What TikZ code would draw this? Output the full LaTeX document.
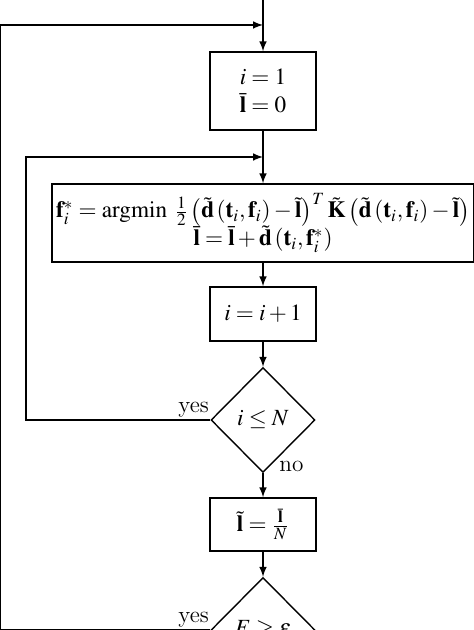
\documentclass[tikz,border=0pt]{standalone}
\usepackage{amsmath,amssymb}
\usepackage{mathptmx}
\usepackage{tikz}
\usetikzlibrary{shapes,arrows,positioning,calc,shapes.geometric}

\begin{document}
\begin{tikzpicture}[
        x=0.5pt, y=0.5pt,
        font=\fontsize{11.6}{14}\selectfont,
        stepbox/.style={draw, line width=0.7pt, rectangle, minimum width=53pt, align=center, inner sep=1.5pt},
        test/.style={draw, line width=0.7pt, diamond, minimum width=52pt, minimum height=52.5pt, inner sep=1pt},
        arrow/.style={line width=0.7pt, -latex},
        lbl/.style={inner sep=0pt}
    ]
        \useasboundingbox (0,0) rectangle (474,630);

        % Steps
        \node[stepbox, minimum height=39pt] (init) at (263,539) {$i=1$\\$\bar{\mathbf{l}}=0$};
        \node[stepbox, minimum width=211pt, minimum height=39pt] (update) at (263,407) {$\mathbf{f}_i^{*}=\mathrm{argmin}\ \tfrac{1}{2}\left(\tilde{\mathbf{d}}\left(\mathbf{t}_i,\mathbf{f}_i\right)-\tilde{\mathbf{l}}\right)^{T}\tilde{\mathbf{K}}\left(\tilde{\mathbf{d}}\left(\mathbf{t}_i,\mathbf{f}_i\right)-\tilde{\mathbf{l}}\right)$\\$\bar{\mathbf{l}}=\bar{\mathbf{l}}+\tilde{\mathbf{d}}\left(\mathbf{t}_i,\mathbf{f}_i^{*}\right)$};
        \node[stepbox, minimum height=27pt] (incr) at (263,316) {$i=i+1$};
        \node[test] (loop) at (263,210) {$i\leq N$};
        \node[stepbox, minimum height=26.5pt] (mean) at (263,105.5) {$\tilde{\mathbf{l}}=\frac{\bar{\mathbf{l}}}{N}$};
        \node[test] (conv) at (263,0) {$E\geq\varepsilon$};

        % Junctions
        \coordinate (start) at (263,640);
        \coordinate (join1) at (263,605);
        \coordinate (join2) at (263,473);
        \coordinate (outer) at (0.5,605);
        \coordinate (inner) at (26,473);

        % Main flow
        \draw[arrow] (start) -- (init);
        \draw[arrow] (init) -- (update);
        \draw[arrow] (update) -- (incr);
        \draw[arrow] (incr) -- (loop);
        \draw[arrow] (loop) -- (mean);
        \draw[arrow] (mean) -- (conv);

        % Loops
        \draw[arrow] (loop.west) -| (inner) -- (join2);
        \draw[arrow] (conv.west) -| (outer) -- (join1);

        % Labels
        \node[lbl, anchor=base east] (yes1) at ($(loop.west)+(-1,7)$) {yes};
        \node[lbl, anchor=base west] (no1) at ($(loop.south)+(16,2)$) {no};
        \node[lbl, anchor=base east] (yes2) at ($(conv.west)+(-1,7)$) {yes};
    \end{tikzpicture}
\end{document}
